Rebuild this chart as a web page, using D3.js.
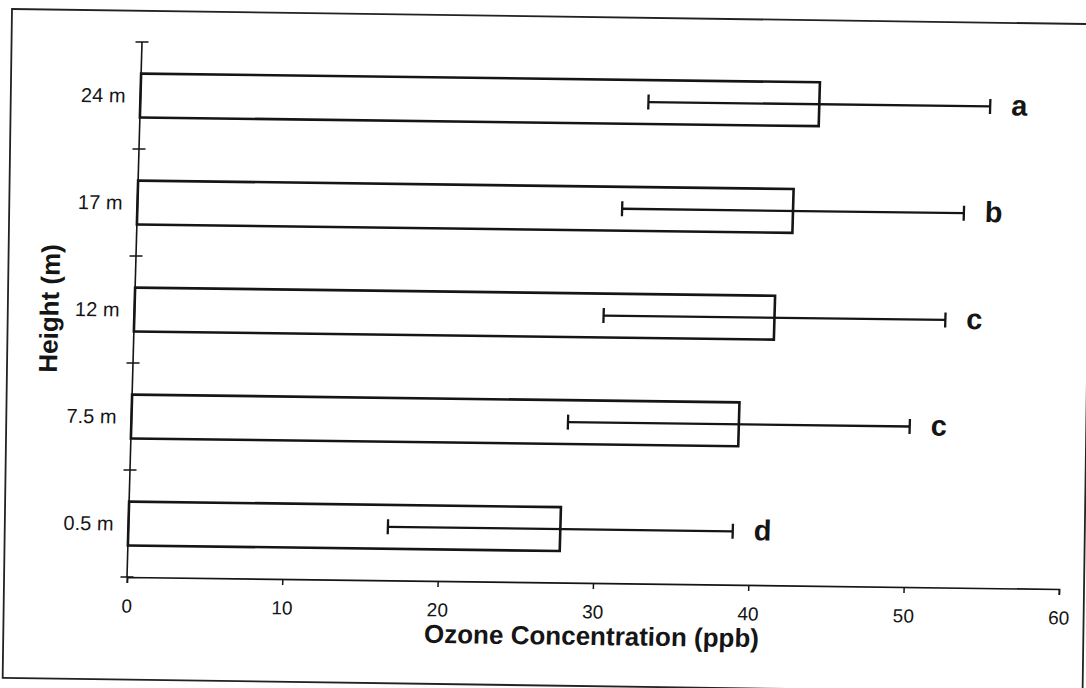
<!DOCTYPE html>
<html>
<head>
<meta charset="utf-8">
<script src="https://cdn.jsdelivr.net/npm/d3@7"></script>
<style>
  html, body { margin: 0; padding: 0; background: #fff; }
  svg { display: block; }
  text { font-family: "Liberation Sans", Arial, sans-serif; fill: #151515; }
</style>
</head>
<body>
<script>
// Sampling heights (top to bottom), mean ozone and its spread, significance groups
const heights = ["24 m", "17 m", "12 m", "7.5 m", "0.5 m"];
const ozone = [43.7, 42.2, 41.2, 39.1, 27.8];
const ozoneErr = [11.0, 11.0, 11.0, 11.0, 11.1];
const groupLetters = ["a", "b", "c", "c", "d"];
const xTicks = [0, 10, 20, 30, 40, 50, 60];

const ink = "#151515";
const svg = d3.select("body").append("svg")
  .attr("width", 1086).attr("height", 688);

svg.append("rect").attr("width", 1086).attr("height", 688).attr("fill", "#fff");

// outer frame, slightly turned like the printed page
svg.append("g")
  .attr("transform", "translate(12,9) rotate(0.8)")
  .append("rect")
  .attr("width", 1080).attr("height", 669)
  .attr("fill", "none").attr("stroke", "#222").attr("stroke-width", 1.8);

const W = 932, H = 535;
// plot area with the page's slight tilt
const g = svg.append("g")
  .attr("transform", "matrix(1,0.01288,-0.02804,1,142,42)");

const x = d3.scaleLinear().domain([0, 60]).range([0, W]);
const y = d3.scaleBand().domain(heights).range([0, H])
  .paddingInner(0.59).paddingOuter(0.295);
const bw = y.bandwidth();
const cy = d => y(d) + bw / 2;

// x axis
const xAxis = g.append("g")
  .attr("transform", `translate(0,${H})`)
  .call(d3.axisBottom(x).tickValues(xTicks).tickFormat(d3.format("d"))
    .tickSize(6).tickSizeOuter(6).tickPadding(16));
xAxis.select(".domain").attr("stroke", ink).attr("stroke-width", 1.7);
xAxis.selectAll(".tick line").attr("stroke", ink).attr("stroke-width", 1.5);
xAxis.selectAll(".tick text")
  .attr("font-size", 19).attr("fill", ink)
  .style("font-family", '"Liberation Sans", Arial, sans-serif');

// y axis: line, crossing ticks between categories, category labels
const yAxis = g.append("g");
yAxis.append("line")
  .attr("x1", 0).attr("x2", 0).attr("y1", 0).attr("y2", H)
  .attr("stroke", ink).attr("stroke-width", 1.6);
yAxis.selectAll("line.tk")
  .data(d3.range(heights.length + 1))
  .join("line").attr("class", "tk")
  .attr("x1", -6.5).attr("x2", 6.5)
  .attr("y1", i => i * y.step()).attr("y2", i => i * y.step())
  .attr("stroke", ink).attr("stroke-width", 1.5);
yAxis.selectAll("text.cat")
  .data(heights)
  .join("text").attr("class", "cat")
  .attr("x", -15).attr("y", d => cy(d))
  .attr("dy", "0.36em")
  .attr("text-anchor", "end")
  .attr("font-size", 20)
  .text(d => d);

// bars
g.selectAll("rect.bar")
  .data(heights)
  .join("rect").attr("class", "bar")
  .attr("x", x(0))
  .attr("y", d => y(d))
  .attr("width", (d, i) => x(ozone[i]) - x(0))
  .attr("height", bw)
  .attr("fill", "none").attr("stroke", ink).attr("stroke-width", 2.6);

// error bars
const err = g.selectAll("g.err")
  .data(heights)
  .join("g").attr("class", "err")
  .attr("stroke", ink).attr("stroke-width", 2.3);
err.append("line")
  .attr("x1", (d, i) => x(ozone[i] - ozoneErr[i]))
  .attr("x2", (d, i) => x(ozone[i] + ozoneErr[i]))
  .attr("y1", d => cy(d)).attr("y2", d => cy(d));
err.append("line")
  .attr("x1", (d, i) => x(ozone[i] - ozoneErr[i]))
  .attr("x2", (d, i) => x(ozone[i] - ozoneErr[i]))
  .attr("y1", d => cy(d) - 7.5).attr("y2", d => cy(d) + 7.5);
err.append("line")
  .attr("x1", (d, i) => x(ozone[i] + ozoneErr[i]))
  .attr("x2", (d, i) => x(ozone[i] + ozoneErr[i]))
  .attr("y1", d => cy(d) - 7.5).attr("y2", d => cy(d) + 7.5);

// significance letters
g.selectAll("text.grp")
  .data(heights)
  .join("text").attr("class", "grp")
  .attr("x", (d, i) => x(ozone[i] + ozoneErr[i]) + 21)
  .attr("y", d => cy(d))
  .attr("dy", "0.3em")
  .attr("font-size", 29).attr("font-weight", "bold")
  .text((d, i) => groupLetters[i]);

// axis titles
g.append("text")
  .attr("x", x(30)).attr("y", H + 62)
  .attr("text-anchor", "middle")
  .attr("font-size", 26).attr("font-weight", "bold")
  .text("Ozone Concentration (ppb)");

g.append("text")
  .attr("transform", `translate(-76,${H / 2}) rotate(-90)`)
  .attr("text-anchor", "middle")
  .attr("font-size", 26).attr("font-weight", "bold")
  .text("Height (m)");
</script>
</body>
</html>
